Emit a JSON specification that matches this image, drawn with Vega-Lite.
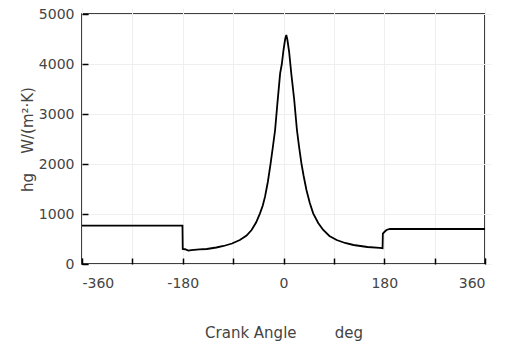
{
  "$schema": "https://vega.github.io/schema/vega-lite/v6.json",
  "width": 403,
  "height": 250,
  "autosize": {"type": "none"},
  "padding": {"left": 82, "top": 14, "right": 23, "bottom": 80},
  "background": "white",
  "config": {
    "view": {"stroke": "black", "strokeWidth": 1.5},
    "axis": {
      "domain": false,
      "tickColor": "black",
      "tickWidth": 1.5,
      "tickSize": 6,
      "offset": -6,
      "gridColor": "#efefef",
      "gridWidth": 1,
      "labelFont": "DejaVu Sans",
      "labelFontSize": 14,
      "labelColor": "#444444",
      "titleFont": "DejaVu Sans",
      "titleFontSize": 15,
      "titleFontWeight": "normal",
      "titleColor": "#444444"
    }
  },
  "data": {
    "values": [
      {"angle": -360, "h": 766},
      {"angle": -180.5, "h": 766},
      {"angle": -180, "h": 300},
      {"angle": -176, "h": 295},
      {"angle": -170, "h": 268},
      {"angle": -165, "h": 278},
      {"angle": -150, "h": 292},
      {"angle": -137, "h": 300},
      {"angle": -120, "h": 330},
      {"angle": -107, "h": 360},
      {"angle": -92, "h": 410},
      {"angle": -78, "h": 480},
      {"angle": -66, "h": 570},
      {"angle": -57, "h": 680},
      {"angle": -49, "h": 830},
      {"angle": -42, "h": 1013},
      {"angle": -37, "h": 1170},
      {"angle": -33, "h": 1347},
      {"angle": -28, "h": 1640},
      {"angle": -23, "h": 2013},
      {"angle": -19, "h": 2340},
      {"angle": -15, "h": 2680},
      {"angle": -11, "h": 3200},
      {"angle": -6, "h": 3813},
      {"angle": -3, "h": 4000},
      {"angle": 0, "h": 4280},
      {"angle": 3, "h": 4500},
      {"angle": 5, "h": 4580},
      {"angle": 7, "h": 4480},
      {"angle": 10, "h": 4250},
      {"angle": 14, "h": 3800},
      {"angle": 19, "h": 3300},
      {"angle": 24, "h": 2680},
      {"angle": 28, "h": 2330},
      {"angle": 32, "h": 2013},
      {"angle": 36, "h": 1760},
      {"angle": 41, "h": 1480},
      {"angle": 47, "h": 1220},
      {"angle": 53, "h": 1013},
      {"angle": 62, "h": 820},
      {"angle": 71, "h": 680},
      {"angle": 82, "h": 560},
      {"angle": 95, "h": 480},
      {"angle": 110, "h": 420},
      {"angle": 125, "h": 380},
      {"angle": 150, "h": 340},
      {"angle": 172, "h": 322},
      {"angle": 177, "h": 315},
      {"angle": 177.5, "h": 610},
      {"angle": 181, "h": 650},
      {"angle": 184, "h": 680},
      {"angle": 190, "h": 700},
      {"angle": 360, "h": 700}
    ]
  },
  "mark": {"type": "line", "color": "black", "strokeWidth": 1.8, "clip": true},
  "encoding": {
    "x": {
      "field": "angle",
      "type": "quantitative",
      "scale": {"domain": [-360, 360], "nice": false, "zero": false},
      "axis": {
        "values": [-360, -270, -180, -90, 0, 90, 180, 270, 360],
        "labelExpr": "datum.value % 180 === 0 ? '' + datum.value : ''",
        "labelPadding": 12,
        "title": "Crank Angle\u00a0\u00a0\u00a0\u00a0\u00a0\u00a0\u00a0\u00a0deg",
        "titlePadding": 35
      }
    },
    "y": {
      "field": "h",
      "type": "quantitative",
      "scale": {"domain": [0, 5000], "nice": false},
      "axis": {
        "values": [0, 1000, 2000, 3000, 4000, 5000],
        "labelExpr": "'' + datum.value",
        "labelPadding": 8,
        "title": "hg\u00a0\u00a0\u00a0\u00a0W/(m²·K)",
        "titlePadding": 3
      }
    }
  }
}
